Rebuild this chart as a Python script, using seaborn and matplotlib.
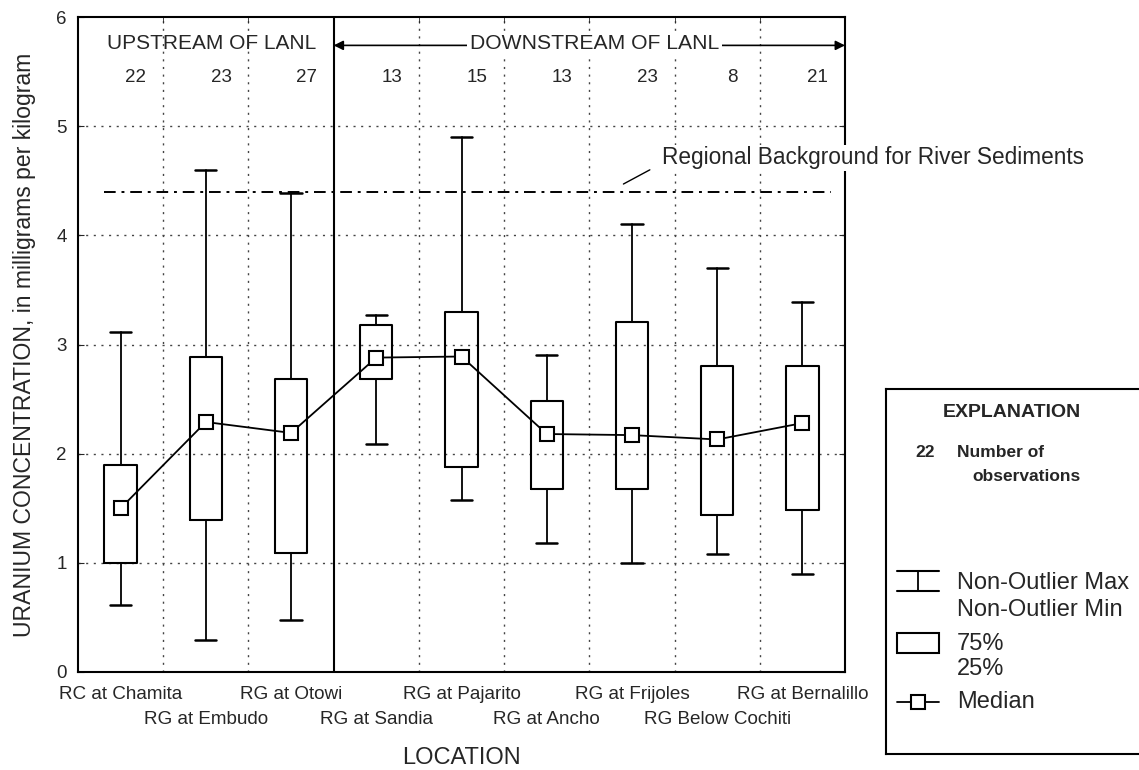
import numpy as np
import pandas as pd
import matplotlib
matplotlib.use("Agg")
import matplotlib.pyplot as plt
import seaborn as sns
from matplotlib.transforms import ScaledTranslation
from matplotlib.patches import Rectangle

# ---------------- data ----------------
locations = ["RC at Chamita", "RG at Embudo", "RG at Otowi", "RG at Sandia",
             "RG at Pajarito", "RG at Ancho", "RG at Frijoles",
             "RG Below Cochiti", "RG at Bernalillo"]
n_obs = [22, 23, 27, 13, 15, 13, 23, 8, 21]
whisker_min = [0.61, 0.29, 0.48, 2.09, 1.58, 1.18, 1.00, 1.08, 0.90]
q25 = [1.00, 1.39, 1.09, 2.68, 1.88, 1.68, 1.68, 1.44, 1.48]
median = [1.50, 2.29, 2.19, 2.88, 2.89, 2.18, 2.17, 2.13, 2.28]
q75 = [1.90, 2.89, 2.68, 3.18, 3.30, 2.48, 3.21, 2.80, 2.80]
whisker_max = [3.11, 4.60, 4.39, 3.27, 4.90, 2.90, 4.10, 3.70, 3.39]
regional_background = 4.4
yticks = [0, 1, 2, 3, 4, 5, 6]

df = pd.DataFrame({"location": locations, "n": n_obs, "lo": whisker_min,
                   "q1": q25, "med": median, "q3": q75, "hi": whisker_max})
df["pos"] = np.arange(len(df))

# ---------------- style ----------------
sns.set_style("white")
plt.rcParams["font.family"] = ["Liberation Sans", "DejaVu Sans"]
plt.rcParams["axes.edgecolor"] = "black"
plt.rcParams["axes.linewidth"] = 1.5

fig = plt.figure(figsize=(11.39, 7.70), dpi=100)
ax = fig.add_axes([78 / 1139, (770 - 672) / 770, 767 / 1139, 655 / 770])

# boxes and whiskers
stats = [dict(label=r.location, whislo=r.lo, q1=r.q1, med=r.med, q3=r.q3,
              whishi=r.hi, fliers=[]) for r in df.itertuples()]
ax.bxp(stats, positions=df["pos"], widths=0.38, capwidths=0.25,
       showfliers=False, manage_ticks=False,
       boxprops=dict(color="black", lw=1.5),
       whiskerprops=dict(color="black", lw=1.3),
       capprops=dict(color="black", lw=1.8),
       medianprops=dict(visible=False))

# median line
sns.lineplot(data=df, x="pos", y="med", ax=ax, color="black", lw=1.3,
             marker="s", markersize=10, markerfacecolor="white",
             markeredgecolor="black", markeredgewidth=1.5, zorder=6)

# regional background
ax.plot([-0.19, 8.33], [regional_background] * 2, color="black", lw=1.4,
        ls=(0, (6, 3, 1.5, 3)), zorder=4)
ax.plot([5.90, 6.21], [4.47, 4.60], color="black", lw=1.0)
ax.text(6.35, 4.71, "Regional Background for River Sediments", fontsize=16.3,
        ha="left", va="center", clip_on=False, zorder=10,
        bbox=dict(fc="white", ec="none", pad=1))

# divider and annotations
ax.axvline(2.5, color="black", lw=1.5, zorder=5)
ax.text(1.07, 5.76, "UPSTREAM OF LANL", fontsize=15, ha="center", va="center")
ax.annotate("", xy=(2.5, 5.74), xytext=(8.5, 5.74),
            arrowprops=dict(arrowstyle="<|-|>", color="black", lw=1.2,
                            mutation_scale=14, shrinkA=0, shrinkB=0))
ax.text(5.56, 5.76, "DOWNSTREAM OF LANL", fontsize=15.2, ha="center",
        va="center", zorder=10, bbox=dict(fc="white", ec="none", pad=2))
for r in df.itertuples():
    ax.text(r.pos + 0.18, 5.45, str(r.n), fontsize=13.5, ha="center",
            va="center")

# axes, grid, ticks
ax.set_xlim(-0.5, 8.5)
ax.set_ylim(0, 6)
ax.set_yticks(yticks)
ax.set_xticks(df["pos"])
ax.set_xticks([0.5, 1.5, 3.5, 4.5, 5.5, 6.5, 7.5], minor=True)
ax.set_xticklabels(df["location"], fontsize=13.6)
ax.tick_params(axis="x", which="major", length=0, pad=10)
ax.tick_params(axis="x", which="minor", direction="in", length=4, top=True)
ax.tick_params(axis="y", direction="in", length=4, right=True, left=True,
               labelsize=13.5, pad=8)
ax.grid(False)
ax.grid(True, which="minor", axis="x", ls=(0, (1.5, 4)), color="#444444",
        lw=1.0)
for y in yticks[1:-1]:
    ax.axhline(y, ls=(0, (1.5, 4)), color="#444444", lw=1.0, zorder=0.5)
for i, lbl in enumerate(ax.get_xticklabels()):
    if i % 2 == 1:
        lbl.set_transform(lbl.get_transform() +
                          ScaledTranslation(0, -0.25, fig.dpi_scale_trans))

ax.set_ylabel("URANIUM CONCENTRATION, in milligrams per kilogram",
              fontsize=16.6)
ax.yaxis.set_label_coords(-0.055, 0.5)
ax.set_xlabel("LOCATION", fontsize=17)
ax.xaxis.set_label_coords(0.5, -0.115)

# ---------------- explanation box ----------------
lax = fig.add_axes([886 / 1139, 16 / 770, 260 / 1139, 365 / 770])
lax.set_xlim(886, 1146)
lax.set_ylim(754, 389)
lax.set_xticks([])
lax.set_yticks([])
for s in lax.spines.values():
    s.set_linewidth(1.5)
lax.text(1012, 413, "EXPLANATION", fontsize=14, fontweight="bold",
         ha="center", va="center")
lax.text(925, 453, "22", fontsize=12.5, fontweight="bold", ha="center",
         va="center")
lax.text(957, 453, "Number of", fontsize=12.5, fontweight="bold", ha="left",
         va="center")
lax.text(972, 477, "observations", fontsize=12.5, fontweight="bold",
         ha="left", va="center")
lax.plot([897, 939], [571, 571], color="black", lw=1.5)
lax.plot([897, 939], [591, 591], color="black", lw=1.5)
lax.plot([918, 918], [571, 591], color="black", lw=1.3)
lax.text(957, 583, "Non-Outlier Max", fontsize=17, ha="left", va="center")
lax.text(957, 610, "Non-Outlier Min", fontsize=17, ha="left", va="center")
lax.add_patch(Rectangle((897, 633), 42, 20, fill=False, ec="black", lw=1.5))
lax.text(957, 644, "75%", fontsize=17, ha="left", va="center")
lax.text(957, 669, "25%", fontsize=17, ha="left", va="center")
lax.plot([897, 939], [702, 702], color="black", lw=1.3, zorder=3)
lax.plot([918], [702], marker="s", markersize=10, markerfacecolor="white",
         markeredgecolor="black", markeredgewidth=1.5, zorder=4)
lax.text(957, 702, "Median", fontsize=17, ha="left", va="center")

fig.savefig("out.png", dpi=100)
